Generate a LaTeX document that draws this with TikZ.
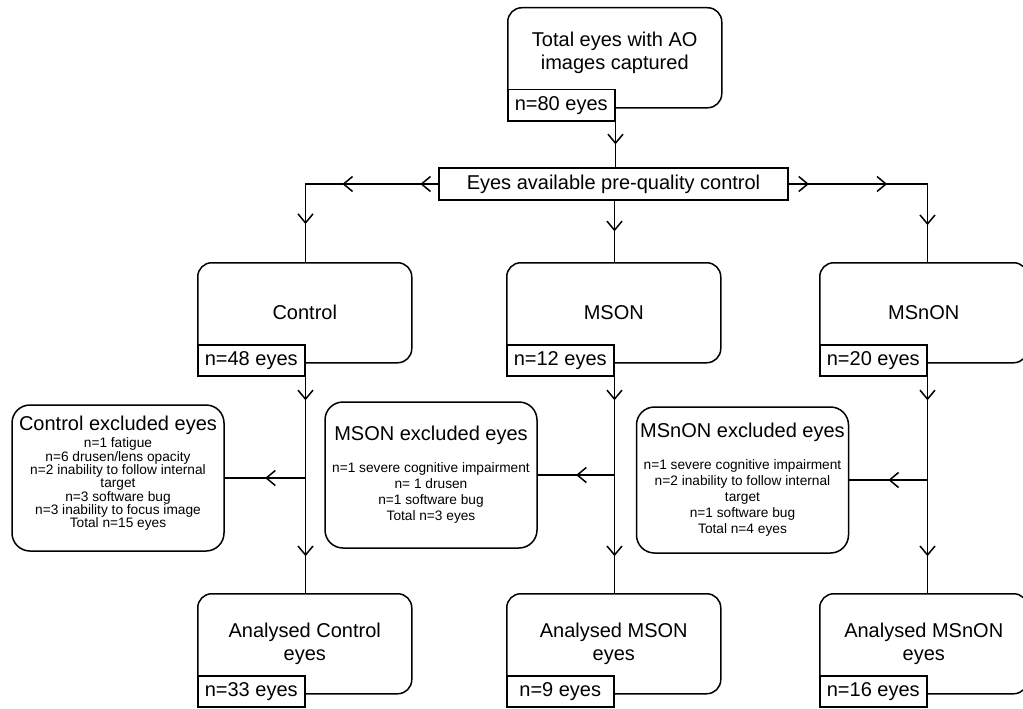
\documentclass[tikz,border=0pt]{standalone}
\usepackage{fontspec}
\setmainfont{Liberation Sans}
\usetikzlibrary{arrows.meta,decorations.markings}
\begin{document}
\begin{tikzpicture}[x=1pt, y=-1pt, line width=1.5pt,
    bigfont/.style={font=\fontsize{20}{23}\selectfont},
    grp/.style={draw, rounded corners=14pt, anchor=north west, minimum width=214pt, minimum height=100pt, align=center, inner sep=0pt, bigfont},
    nlabel/.style={draw, fill=white, anchor=south west, yshift=-13pt, minimum width=107pt, minimum height=31pt, inner sep=0pt, bigfont},
    excl/.style={draw, rounded corners=18pt, minimum width=212pt, minimum height=146pt, align=center, inner sep=0pt, font=\fontsize{13.7}{16}\selectfont},
    tipat/.style={postaction={decorate, decoration={markings, mark=at position #1 with {\arrow{Straight Barb[length=9pt,width=15pt]}}}}}]
    \useasboundingbox (0,0) rectangle (1023,709);
    \clip (0,0) rectangle (1023,709);
    \node[grp, text depth=14pt] (total) at (507,7) {Total eyes with AO\\images captured};
    \node[nlabel] (totaln) at (total.south west) {n=80 eyes};
    \node[draw, minimum width=349pt, minimum height=32pt, inner sep=0pt, bigfont] (avail) at (613.5,184) {Eyes available pre-quality control};
    \node[grp] (control) at (197,262) {Control};
    \node[nlabel] (controln) at (control.south west) {n=48 eyes};
    \node[grp] (mson) at (506,262) {MSON};
    \node[nlabel] (msonn) at (mson.south west) {n=12 eyes};
    \node[grp, minimum width=208pt] (msnon) at (819,262) {MSnON};
    \node[nlabel] (msnonn) at (msnon.south west) {n=20 eyes};
    \node[excl, font=\fontsize{13.7}{13.3}\selectfont, text depth=12pt] (controlx) at (118,478) {{\fontsize{20}{23}\selectfont Control excluded eyes}\\[2pt]
        n=1 fatigue\\ n=6 drusen/lens opacity\\ n=2 inability to follow internal\\ target\\
        n=3 software bug\\ n=3 inability to focus image\\ Total n=15 eyes};
    \node[excl] (msonx) at (431,475) {{\fontsize{20}{23}\selectfont MSON excluded eyes}\\[16pt]
        n=1 severe cognitive impairment\\ n= 1 drusen\\ n=1 software bug\\ Total n=3 eyes};
    \node[excl] (msnonx) at (742.5,480) {{\fontsize{20}{23}\selectfont MSnON excluded eyes}\\[16pt]
        n=1 severe cognitive impairment\\ n=2 inability to follow internal\\ target\\
        n=1 software bug\\ Total n=4 eyes};
    \node[grp] (acontrol) at (197,593) {Analysed Control\\eyes};
    \node[nlabel] (acontroln) at (acontrol.south west) {n=33 eyes};
    \node[grp] (amson) at (506,593) {Analysed MSON\\eyes};
    \node[nlabel] (amsonn) at (amson.south west) {n=9 eyes};
    \node[grp, minimum width=208pt] (amsnon) at (819,593) {Analysed MSnON\\eyes};
    \node[nlabel] (amsnonn) at (amsnon.south west) {n=16 eyes};
    \draw[tipat=0.5] (totaln.south east) -- (totaln.south east |- avail.north);
    \draw[tipat=0.085, tipat=0.455, tipat=0.82] (avail.west) -| (controln.south east |- control.north);
    \draw[tipat=0.5] (msonn.south east |- avail.south) -- (msonn.south east |- mson.north);
    \draw[tipat=0.093, tipat=0.454, tipat=0.83] (avail.east) -| (msnonn.south east |- msnon.north);
    \draw[tipat=0.11, tipat=0.83] (controln.south east) -- (controln.south east |- acontrol.north);
    \draw[tipat=0.11, tipat=0.83] (msonn.south east) -- (msonn.south east |- amson.north);
    \draw[tipat=0.11, tipat=0.83] (msnonn.south east) -- (msnonn.south east |- amsnon.north);
    \draw[tipat=0.5] (controln.south east |- controlx.east) -- (controlx.east);
    \draw[tipat=0.5] (msonn.south east |- msonx.east) -- (msonx.east);
    \draw[tipat=0.5] (msnonn.south east |- msnonx.east) -- (msnonx.east);
\end{tikzpicture}
\end{document}
